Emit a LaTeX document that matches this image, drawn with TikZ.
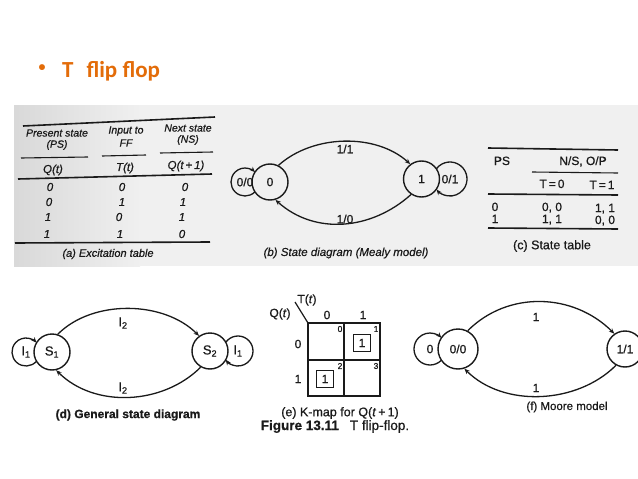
\documentclass[tikz,border=0pt]{standalone}
\usepackage{fontspec}
\setmainfont{Liberation Sans}[FakeBold=0.7]
\newfontfamily\titlefont{Carlito}
\usetikzlibrary{arrows.meta}
\definecolor{titleorange}{HTML}{E36C09}
\definecolor{ink}{HTML}{1A1A1A}
\begin{document}
\begin{tikzpicture}[x=1pt,y=1pt,
  every node/.style={inner sep=0pt, text=ink},
  fa/.style={font=\fontsize{10.5}{12}\selectfont\itshape},
  fan/.style={font=\fontsize{11.5}{13}\selectfont\itshape},
  fb/.style={font=\fontsize{12}{14}\selectfont},
  fc/.style={font=\fontsize{12}{14}\selectfont, anchor=base},
  fd/.style={font=\fontsize{13}{15}\selectfont},
  ttl/.style={font={\titlefont\bfseries\fontsize{23}{26}\selectfont}, text=titleorange, anchor=base west},
  st/.style={draw=ink, circle, line width=1.4pt, minimum size=#1},
  st/.default=36pt,
  arr/.style={draw=ink, line width=1.3pt, -{Stealth[length=5.5pt,width=4.5pt]}},
  rulethick/.style={draw=ink, line width=1.6pt},
  rulethin/.style={draw=ink, line width=1.1pt},
  kbox/.style={draw=ink, line width=1.3pt, minimum size=17pt},
  idx/.style={font=\fontsize{8.5}{10}\selectfont}
]
\useasboundingbox (0,0) rectangle (638,-479);
\fill[white] (0,0) rectangle (638,-479);
% scanned backdrop
\fill[black!6] (14,-105) rectangle (638,-266);
\shade[left color=black!15, right color=black!6] (14,-105) rectangle (140,-266);

% title
\node[font={\titlefont\bfseries\fontsize{14}{16}\selectfont}, text=titleorange] (bul) at (42,-68) {•};
\node[ttl] (title) at (62,-77) {T\hspace{13pt}flip flop};

% ---------- (a) excitation table
\draw[rulethick] (23,-126) -- (215,-117);
\node[fa] (ps1) at (57,-133) {Present state};
\node[fa] (ps2) at (57,-145) {(PS)};
\node[fa] (in1) at (126,-131) {Input to};
\node[fa] (in2) at (126,-143) {FF};
\node[fa] (ns1) at (188,-128) {Next state};
\node[fa] (ns2) at (188,-140) {(NS)};
\draw[rulethin] (21,-158) -- (88,-157);
\draw[rulethin] (102,-156) -- (146,-155);
\draw[rulethin] (160,-153) -- (213,-152);
\node[fan] (qa) at (53,-170) {Q(\textit{t})};
\node[fan] (ta) at (125,-168) {T(\textit{t})};
\node[fan] (qa1) at (186,-166) {Q(\textit{t}\,+\,1)};
\draw[rulethick] (18,-179) -- (212,-174);
\node[fan] (a11) at (50,-187) {0};
\node[fan] (a12) at (122,-187) {0};
\node[fan] (a13) at (185,-187) {0};
\node[fan] (a21) at (49,-202) {0};
\node[fan] (a22) at (122,-202) {1};
\node[fan] (a23) at (183,-202) {1};
\node[fan] (a31) at (48,-217) {1};
\node[fan] (a32) at (119,-217) {0};
\node[fan] (a33) at (182,-217) {1};
\node[fan] (a41) at (47,-234) {1};
\node[fan] (a42) at (120,-234) {1};
\node[fan] (a43) at (182,-234) {0};
\draw[rulethick] (15,-243) -- (210,-242);
\node[font=\fontsize{11}{13}\selectfont\itshape] (capa) at (108,-254) {(a) Excitation table};

% ---------- (b) Mealy state diagram
\node[st, fb] (b0) at (270,-182) {0};
\node[st, fb] (b1) at (421.5,-179) {1};
\node[fb] (l00) at (245,-182) {0/0};
\node[fb] (l01) at (450,-179) {0/1};
\draw[arr] ([shift={(-44.8:14)}]l00.center) arc[start angle=-44.8, end angle=-315.2, radius=14];
\draw[arr] ([shift={(142:17)}]l01.center) arc[start angle=142, end angle=-142, radius=17];
\draw[arr] (b0.63) to[out=42,in=138,looseness=0.9] (b1.127);
\draw[arr] (b1.-124) to[out=-138,in=-42] (b0.-73);
\node[fb] (b11) at (345,-149) {1/1};
\node[fb] (b10) at (345,-219) {1/0};
\node[font=\fontsize{11.5}{13}\selectfont\itshape] (capb) at (346,-253) {(b) State diagram (Mealy model)};

% ---------- (c) state table
\draw[rulethick] (488,-148) -- (618,-150);
\node[fc] (cps) at (502,-165) {PS};
\node[fc] (cns) at (583,-165) {N/S, O/P};
\draw[rulethin] (532,-172) -- (618,-173);
\node[fc] (ct0) at (552,-188) {T\,=\,0};
\node[fc] (ct1) at (602,-189) {T\,=\,1};
\draw[rulethick] (488,-194) -- (618,-195);
\node[fc] (c11) at (495,-211) {0};
\node[fc] (c12) at (552,-211) {0, 0};
\node[fc] (c13) at (605,-212) {1, 1};
\node[fc] (c21) at (495,-223) {1};
\node[fc] (c22) at (552,-223) {1, 1};
\node[fc] (c23) at (605,-224) {0, 0};
\draw[rulethick] (488,-228) -- (618,-229);
\node[font=\fontsize{12.5}{14}\selectfont] (capc) at (552,-246) {(c) State table};

% ---------- (d) general state diagram
\node[st, fd] (s1) at (52,-352) {S\textsubscript{1}};
\node[st, fd] (s2) at (210,-351) {S\textsubscript{2}};
\node[fd] (li1) at (26,-352) {I\textsubscript{1}};
\node[fd] (ri1) at (238,-351) {I\textsubscript{1}};
\draw[arr] ([shift={(-41.4:14)}]li1.center) arc[start angle=-41.4, end angle=-318.6, radius=14];
\draw[arr] ([shift={(144.6:15)}]ri1.center) arc[start angle=144.6, end angle=-144.6, radius=15];
\draw[arr] (s1.72) to[out=45,in=135,looseness=0.9] (s2.126);
\draw[arr] (s2.-120) to[out=-135,in=-45,looseness=0.95] (s1.-77);
\node[fd] (di2a) at (123,-323) {I\textsubscript{2}};
\node[fd] (di2b) at (123,-388) {I\textsubscript{2}};
\node[font=\fontsize{12}{14}\selectfont\bfseries] (capd) at (128,-415) {(d) General state diagram};

% ---------- (e) K-map
\draw[draw=ink, line width=1.9pt] (308,-323) rectangle (380,-396);
\draw[draw=ink, line width=1.2pt] (344,-323) -- (344,-396);
\draw[draw=ink, line width=1.2pt] (308,-360) -- (380,-360);
\draw[draw=ink, line width=1.2pt] (295,-302) -- (308,-323);
\node[fb] (kt) at (307,-300) {T(\textit{t})};
\node[fb] (kq) at (280,-314) {Q(\textit{t})};
\node[fb] (kc0) at (327,-315) {0};
\node[fb] (kc1) at (363,-315) {1};
\node[fb] (kr0) at (298,-344) {0};
\node[fb] (kr1) at (298,-379) {1};
\node[idx] (ki0) at (340,-329) {0};
\node[idx] (ki1) at (376,-329) {1};
\node[idx] (ki2) at (340,-366) {2};
\node[idx] (ki3) at (376,-366) {3};
\node[kbox, fb] (k1) at (362,-343) {1};
\node[kbox, fb] (k2) at (325,-379) {1};
\node[font=\fontsize{12.5}{14}\selectfont] (cape) at (340,-413) {(e) K-map for Q(\textit{t}\,+\,1)};
\node[font=\fontsize{13.5}{15}\selectfont, anchor=base] (fig) at (335,-430) {\textbf{Figure 13.11}\hspace{11pt}T flip-flop.};

% ---------- (f) Moore model
\node[st=40pt, fb] (m0) at (458,-349) {0/0};
\node[st=36pt, fb] (m1) at (625,-349) {1/1};
\node[fb] (lm0) at (430,-349) {0};
\draw[arr] ([shift={(-44.5:16)}]lm0.center) arc[start angle=-44.5, end angle=-315.5, radius=16];
\draw[arr] (m0.62) to[out=45,in=135] (m1.125);
\draw[arr] (m1.-119) to[out=-135,in=-45,looseness=0.93] (m0.-72);
\node[fb] (f1a) at (536,-317) {1};
\node[fb] (f1b) at (536,-388) {1};
\node[font=\fontsize{11.5}{13}\selectfont] (capf) at (567,-407) {(f) Moore model};
\end{tikzpicture}
\end{document}
